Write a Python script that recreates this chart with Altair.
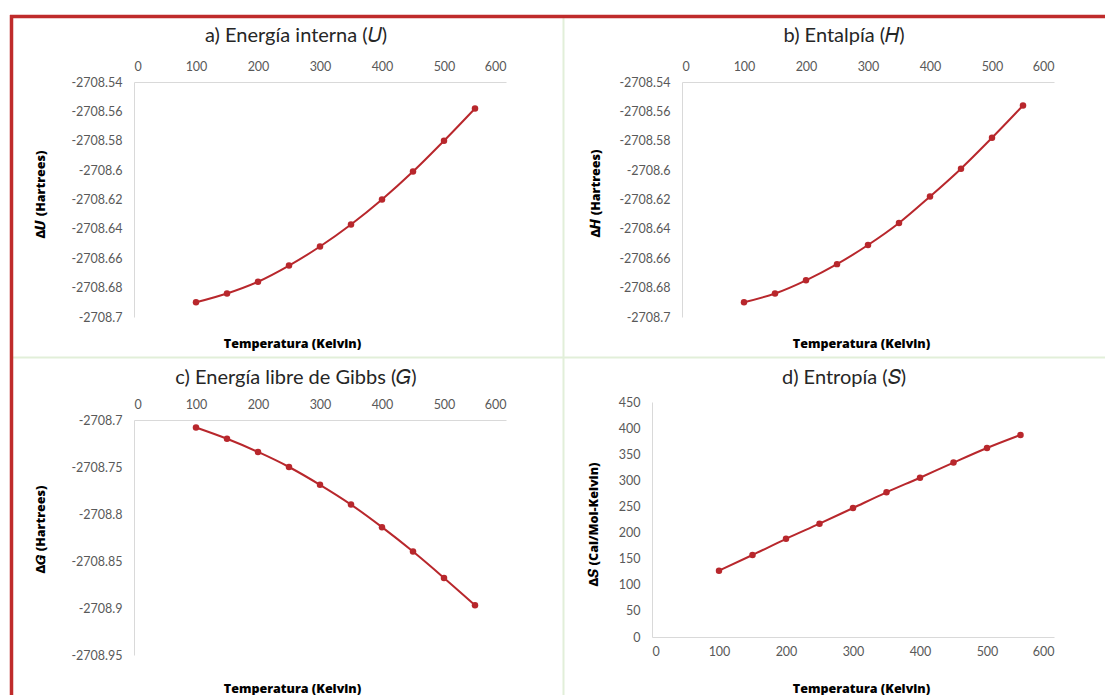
import altair as alt
import pandas as pd

# Temperatures (K) shared by all four panels
temps = [100, 150, 200, 250, 300, 350, 400, 450, 500, 550]

# a) internal energy, b) enthalpy, c) Gibbs free energy (Hartrees)
energy_u = [-2708.690, -2708.684, -2708.676, -2708.665, -2708.652,
            -2708.637, -2708.620, -2708.601, -2708.580, -2708.558]
enthalpy_h = [-2708.690, -2708.684, -2708.675, -2708.664, -2708.651,
              -2708.636, -2708.618, -2708.599, -2708.578, -2708.556]
gibbs_g = [-2708.708, -2708.720, -2708.734, -2708.750, -2708.769,
           -2708.790, -2708.814, -2708.840, -2708.868, -2708.897]
# d) entropy (Cal/Mol-Kelvin)
entropy_s = [127, 157, 188, 217, 247, 277, 305, 334, 362, 387]

panel_titles = ["a) Energía interna (𝑈)", "b) Entalpía (𝐻)",
                "c) Energía libre de Gibbs (𝐺)", "d) Entropía (𝑆)"]
y_titles = ["Δ𝑼 (Hartrees)", "Δ𝑯 (Hartrees)", "Δ𝑮 (Hartrees)",
            "Δ𝑺 (Cal/Mol-Kelvin)"]
x_title = "Temperatura (Kelvin)"
x_ticks = [0, 100, 200, 300, 400, 500, 600]
hartree_ticks_top = [-2708.54, -2708.56, -2708.58, -2708.60, -2708.62,
                     -2708.64, -2708.66, -2708.68, -2708.70]
hartree_ticks_g = [-2708.70, -2708.75, -2708.80, -2708.85, -2708.90, -2708.95]
entropy_ticks = [0, 50, 100, 150, 200, 250, 300, 350, 400, 450]

RED = "#B8272C"
FONT = "Lato"
TITLE_FONT = "Open Sans"
LABEL_GRAY = "#595959"
W, H = 1105, 695

label_expr = "replace(format(datum.value, '.2~f'), '\u2212', '-')"


def axis_common(**kw):
    base = dict(domainColor="#D9D9D9", domainWidth=1, ticks=False, grid=False,
                labelColor=LABEL_GRAY, labelFont=FONT, labelFontSize=12.5,
                titleFont=TITLE_FONT, titleFontSize=12.5, titleFontWeight=800,
                titleColor="#000000", titleAlign="center", titleBaseline="middle")
    base.update(kw)
    return base


def panel(values, ylabel, x_range, y_range, y_domain, y_ticks, x_orient,
          x_offset, y_offset, x_title_pos, y_title_pos, y_fmt=True):
    df = pd.DataFrame({"T": temps, "V": values})
    x_axis = alt.Axis(**axis_common(
        values=x_ticks, orient=x_orient, offset=x_offset, title=x_title,
        labelPadding=9 if x_orient == "top" else 8,
        titleX=x_title_pos[0], titleY=x_title_pos[1], titleAngle=0))
    y_kw = dict(values=y_ticks, orient="left", offset=y_offset, title=ylabel,
                labelPadding=12, titleX=y_title_pos[0], titleY=y_title_pos[1],
                titleAngle=270)
    if y_fmt:
        y_kw["labelExpr"] = label_expr
    y_axis = alt.Axis(**axis_common(**y_kw))
    enc = dict(
        x=alt.X("T:Q", scale=alt.Scale(domain=[0, 600], range=x_range, nice=False),
                axis=x_axis),
        y=alt.Y("V:Q", scale=alt.Scale(domain=y_domain, range=y_range, nice=False,
                                       zero=False), axis=y_axis),
    )
    line = alt.Chart(df).mark_line(color=RED, strokeWidth=2, interpolate="monotone").encode(**enc)
    pts = alt.Chart(df).mark_circle(color=RED, size=42, opacity=1).encode(**enc)
    return alt.layer(line, pts)


pa = panel(energy_u, y_titles[0], [134, 506], [317, 82], [-2708.70, -2708.54],
           hartree_ticks_top, "top", -82, -134, (292, 261), (-94, 194))
pb = panel(enthalpy_h, y_titles[1], [682, 1054], [317, 82], [-2708.70, -2708.54],
           hartree_ticks_top, "top", -82, -682, (861, 261), (-87, 193))
pc = panel(gibbs_g, y_titles[2], [134, 506], [655, 420], [-2708.95, -2708.70],
           hartree_ticks_g, "top", -420, -134, (292, 268), (-94, 529))
pd_ = panel(entropy_s, y_titles[3], [652, 1054], [637, 402], [0, 450],
            entropy_ticks, "bottom", 637 - H, -652, (861, 51), (-59, 524), y_fmt=False)

# Panel headings
titles_df = pd.DataFrame({"label": panel_titles})
heading_pos = [(296, 36), (844, 36), (296, 378), (844, 378)]
headings = [
    alt.Chart(titles_df.iloc[[i]]).mark_text(
        font=FONT, fontSize=20, color="#262626", align="center", baseline="middle"
    ).encode(text="label:N", x=alt.value(px), y=alt.value(py))
    for i, (px, py) in enumerate(heading_pos)
]

# Frame: red border on top/left, faint dividers between the panels
one = pd.DataFrame({"k": [0]})
frame = [
    alt.Chart(one).mark_rule(color="#E2EFD9", strokeWidth=2).encode(
        x=alt.value(13), x2=alt.value(W), y=alt.value(357.5)),
    alt.Chart(one).mark_rule(color="#E2EFD9", strokeWidth=2).encode(
        x=alt.value(563.5), y=alt.value(18), y2=alt.value(H)),
    alt.Chart(one).mark_rule(color="#BF2B2B", strokeWidth=3.5).encode(
        x=alt.value(10), x2=alt.value(W), y=alt.value(16.5)),
    alt.Chart(one).mark_rule(color="#BF2B2B", strokeWidth=3.5).encode(
        x=alt.value(11.5), y=alt.value(15), y2=alt.value(H)),
]

chart = alt.layer(*frame, pa, pb, pc, pd_, *headings).resolve_scale(
    x="independent", y="independent"
).properties(
    width=W, height=H, padding=0, background="white",
    autosize=alt.AutoSizeParams(type="none"),
).configure_view(stroke=None)

chart.save("out.html", embed_options={"renderer": "svg", "actions": False})
